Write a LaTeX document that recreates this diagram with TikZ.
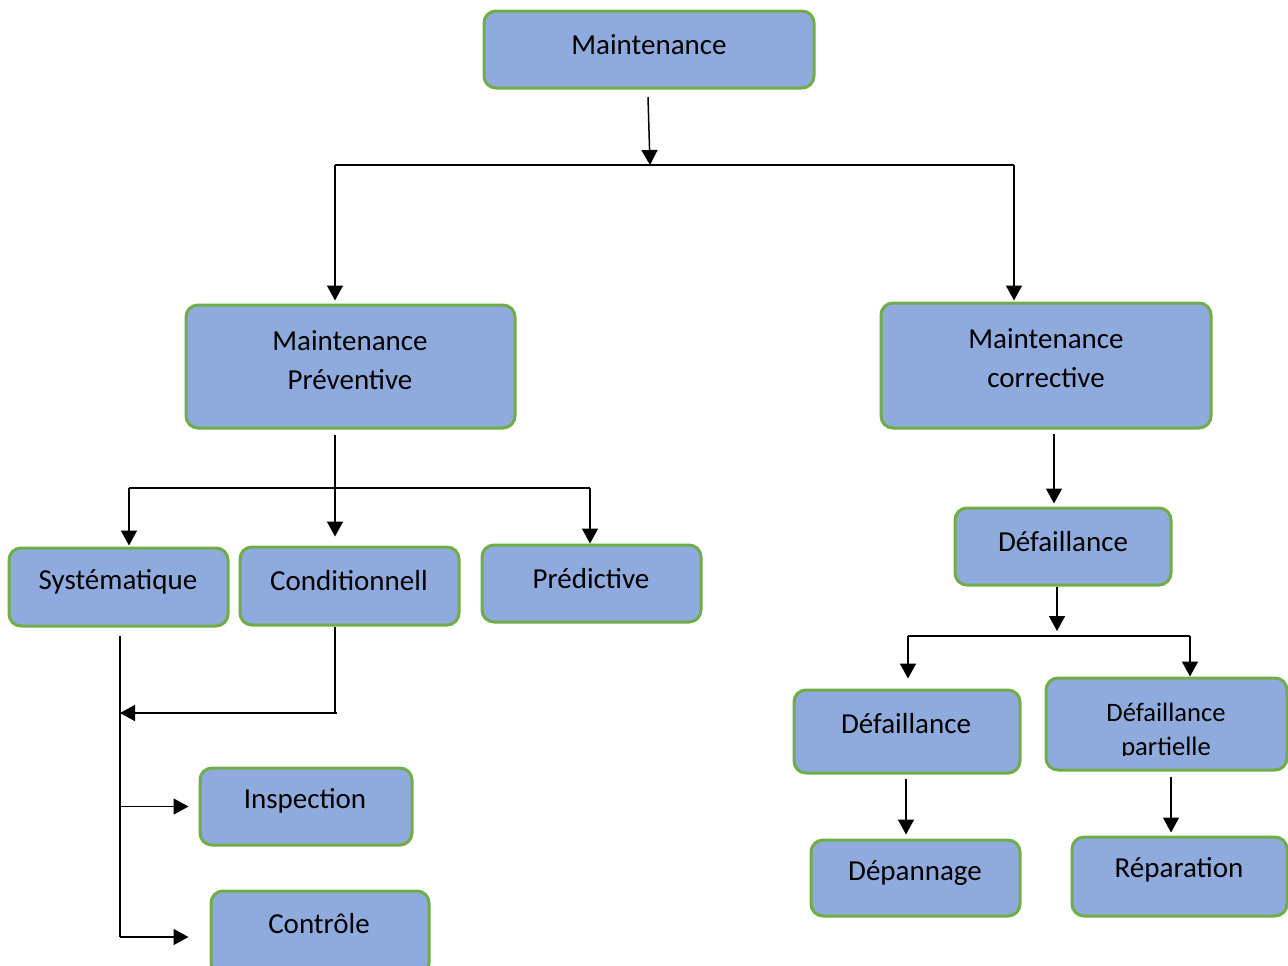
\documentclass[tikz,border=0pt]{standalone}
\usepackage{fontspec}
\setmainfont{Carlito}
\usetikzlibrary{arrows.meta}
\definecolor{boxfill}{HTML}{8FAADC}
\definecolor{boxline}{HTML}{70AD47}
\tikzset{
  box/.style={draw=boxline, fill=boxfill, line width=1.5pt, rounded corners=6pt, inner sep=0pt},
  txt/.style={font=\fontsize{14.5pt}{19.5pt}\selectfont, align=center, inner sep=0pt, text=black},
  arr/.style={line width=0.75pt, -{Triangle[length=7.5pt,width=8pt]}},
  ln/.style={line width=0.75pt}
}
\begin{document}
\begin{tikzpicture}[x=0.5pt,y=-0.5pt]
\useasboundingbox (0,0) rectangle (1288,965);
% boxes
\node[box, minimum width=165pt, minimum height=38.5pt] (main) at (649,49.5) {};
\node[txt] (mainT) at (649,45) {Maintenance};
\node[box, minimum width=164.5pt, minimum height=61.5pt] (prev) at (350.5,366.5) {};
\node[txt] (prevT) at (350,360.5) {Maintenance\\Préventive};
\node[box, minimum width=165pt, minimum height=62.5pt] (corr) at (1046,365.5) {};
\node[txt] (corrT) at (1046,358.5) {Maintenance\\corrective};
\node[box, minimum width=109.5pt, minimum height=39pt] (sys) at (118.5,587) {};
\node[txt] (sysT) at (118,582) {Systématique};
\node[box, minimum width=109.5pt, minimum height=39pt] (cond) at (349.5,586) {};
\node[txt] (condT) at (349,581) {Conditionnell};
\node[box, minimum width=109.5pt, minimum height=38.5pt] (pred) at (591.5,583.5) {};
\node[txt] (predT) at (591,579) {Prédictive};
\node[box, minimum width=108pt, minimum height=38.5pt] (def1) at (1063,546.5) {};
\node[txt] (def1T) at (1063,542) {Défaillance};
\node[box, minimum width=113pt, minimum height=41.5pt] (def2) at (907,731.5) {};
\node[txt] (def2T) at (906,724) {Défaillance};
\node[box, minimum width=120.5pt, minimum height=46pt] (defp) at (1166.5,724) {};
\begin{scope}
\clip (defp.north west) rectangle ([yshift=8pt]defp.south east);
\node[txt, font=\fontsize{13.3pt}{17pt}\selectfont] (defpT) at (1166,731) {Défaillance\\partielle};
\end{scope}
\node[box, minimum width=106pt, minimum height=38.5pt] (insp) at (306,806.5) {};
\node[txt] (inspT) at (305,801) {Inspection};
\node[box, minimum width=109pt, minimum height=42pt] (ctrl) at (320,933) {};
\node[txt] (ctrlT) at (319,924) {Contrôle};
\node[box, minimum width=104.5pt, minimum height=38pt] (dep) at (915.5,878) {};
\node[txt] (depT) at (915,873) {Dépannage};
\node[box, minimum width=107.5pt, minimum height=39.5pt] (rep) at (1179.5,876.5) {};
\node[txt] (repT) at (1179,870) {Réparation};
% junction coordinates
\coordinate (mS) at (648,97);
\coordinate (j1) at (650,165);
\coordinate (jL) at (335,165);
\coordinate (jR) at (1014,165);
\coordinate (pS) at (335,435);
\coordinate (hL) at (129,488);
\coordinate (hR) at (590,488);
\coordinate (cB) at (335,713);
\coordinate (cE) at (337,713);
\coordinate (vT) at (120,636);
\coordinate (vB) at (120,937);
\coordinate (cS) at (1054,434);
\coordinate (dJ) at (1057,636);
\coordinate (dL) at (908,636);
\coordinate (dR) at (1190,636);
\coordinate (dA) at (906,779);
\coordinate (rA) at (1171,777);
% connectors
\draw[arr] (mS) -- (j1);
\draw[ln] (jL) -- (jR);
\draw[arr, shorten >=1.5pt] (jL) -- (jL |- prev.north);
\draw[arr, shorten >=0.5pt] (jR) -- (jR |- corr.north);
\draw[arr, shorten >=4.5pt] (pS) -- (pS |- cond.north);
\draw[ln] (hL) -- (hR);
\draw[arr, shorten >=0.5pt] (hL) -- (hL |- sys.north);
\draw[arr] (hR) -- (hR |- pred.north);
\draw[ln] (cB |- cond.south) -- (cB);
\draw[arr] (cE) -- (vT |- cE);
\draw[ln] (vT) -- (vB);
\draw[arr, shorten >=5pt] (vT |- insp.west) -- (insp.west);
\draw[arr, shorten >=10.5pt] (vB) -- (vB -| ctrl.west);
\draw[arr, shorten >=1.5pt] (cS) -- (cS |- def1.north);
\draw[arr, shorten >=2.5pt] (dJ |- def1.south) -- (dJ);
\draw[ln] (dL) -- (dR);
\draw[arr, shorten >=5pt] (dL) -- (dL |- def2.north);
\draw[arr] (dR) -- (dR |- defp.north);
\draw[arr, shorten >=2pt] (dA) -- (dA |- dep.north);
\draw[arr, shorten >=1.5pt] (rA) -- (rA |- rep.north);
\end{tikzpicture}
\end{document}
